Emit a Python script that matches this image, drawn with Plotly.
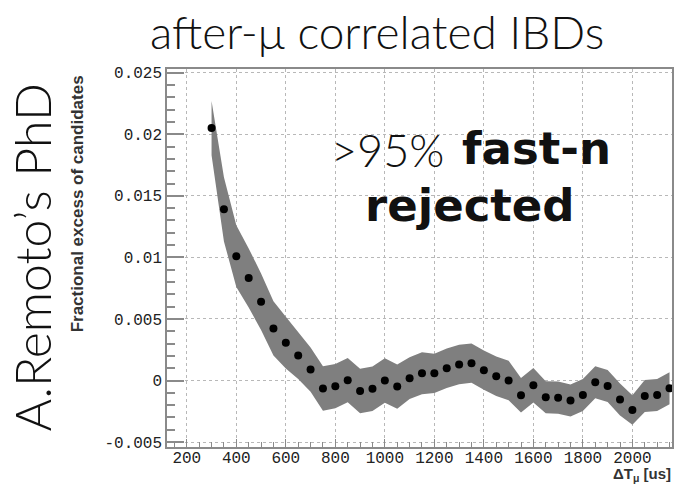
import plotly.graph_objects as go

# Time since muon (us) and fractional excess of IBD candidates
dt_us = [300, 350, 400, 450, 500, 550, 600, 650, 700, 750, 800, 850, 900, 950,
         1000, 1050, 1100, 1150, 1200, 1250, 1300, 1350, 1400, 1450, 1500, 1550,
         1600, 1650, 1700, 1750, 1800, 1850, 1900, 1950, 2000, 2050, 2100, 2150]
excess = [0.0205, 0.0139, 0.0101, 0.00833, 0.0064, 0.00423, 0.00307, 0.00203,
          0.00089, -0.00065, -0.00046, 0.00003, -0.00085, -0.00067, 0.0,
          -0.00049, 0.00019, 0.00059, 0.00058, 0.001, 0.0013, 0.00141, 0.00084,
          0.00035, 0.0, -0.0012, -0.00039, -0.00136, -0.00139, -0.00163,
          -0.00118, -0.00015, -0.00045, -0.00155, -0.0024, -0.00126, -0.00118,
          -0.00063]
err = [0.0022, 0.0026, 0.0025, 0.0024, 0.0023, 0.0022, 0.0021, 0.0019,
       0.0018, 0.0018, 0.0018, 0.0018, 0.0018, 0.0018, 0.0018, 0.0018,
       0.0017, 0.0017, 0.0016, 0.0016, 0.0016, 0.0016, 0.0016, 0.0016,
       0.0016, 0.0014, 0.0014, 0.0013, 0.0013, 0.0013, 0.0013, 0.0013,
       0.0013, 0.0013, 0.0012, 0.0013, 0.0013, 0.0013]

x_ticks = [200, 400, 600, 800, 1000, 1200, 1400, 1600, 1800, 2000]
y_ticks = [-0.005, 0, 0.005, 0.01, 0.015, 0.02, 0.025]
y_tick_text = ["-0.005", "0", "0.005", "0.01", "0.015", "0.02", "0.025"]

upper = [v + e for v, e in zip(excess, err)]
lower = [v - e for v, e in zip(excess, err)]

fig = go.Figure()
# error band
fig.add_trace(go.Scatter(
    x=dt_us + dt_us[::-1], y=upper + lower[::-1],
    fill="toself", fillcolor="#7f7f7f", line=dict(width=0, color="#7f7f7f"),
    mode="lines", hoverinfo="skip", showlegend=False))
# measured points
fig.add_trace(go.Scatter(
    x=dt_us, y=excess, mode="markers",
    marker=dict(color="black", size=8), showlegend=False))

L, R, T, B = 167, 674, 69, 447
W, H = 676, 485


def px(xp):
    return (xp - L) / (R - L)


def py(yp):
    return (B - yp) / (B - T)


axis_common = dict(
    showline=True, linecolor="#8a8a8a", linewidth=1.5, mirror=True,
    showgrid=True, gridcolor="#b8b8b8", griddash="dot", gridwidth=1,
    zeroline=False, ticks="inside", tickcolor="#8a8a8a",
    tickfont=dict(family="Liberation Mono", size=16, color="#222222"),
)

big = dict(showarrow=False, xref="paper", yref="paper",
           xanchor="center", yanchor="middle")

fig.update_layout(
    width=W, height=H,
    margin=dict(l=L, r=W - R, t=T, b=H - B),
    paper_bgcolor="white", plot_bgcolor="white",
    xaxis=dict(range=[120, 2160], tickvals=x_ticks, ticklen=8, tickwidth=1,
               ticklabelstandoff=-5,
               minor=dict(dtick=50, tick0=0, ticks="inside", ticklen=5,
                          tickcolor="#8a8a8a", showgrid=False),
               **axis_common),
    yaxis=dict(range=[-0.0054, 0.0253], tickvals=y_ticks, ticktext=y_tick_text,
               ticklen=17, tickwidth=1.5,
               minor=dict(dtick=0.001, tick0=0, ticks="inside", ticklen=8,
                          tickcolor="#8a8a8a", showgrid=False),
               **axis_common),
    annotations=[
        dict(text="after-\u03bc correlated IBDs", x=px(378), y=py(32),
             font=dict(family="Lato", size=46, weight=300, color="#111111"), **big),
        dict(text="A.Remoto\u2019s PhD", x=px(31), y=py(257), textangle=-90,
             font=dict(family="Lato", size=50, weight=300, color="#111111"), **big),
        dict(text="<b>Fractional excess of candidates</b>", x=px(78), y=py(204),
             textangle=-90,
             font=dict(family="Liberation Sans", size=17, color="#333333"), **big),
        dict(text="<b>\u0394T<sub>\u03bc</sub> [us]</b>", x=px(675), y=py(475),
             showarrow=False, xref="paper", yref="paper",
             xanchor="right", yanchor="middle",
             font=dict(family="Liberation Sans", size=15, color="#333333")),
        dict(text="&gt;95%", x=px(388), y=py(150),
             font=dict(family="Lato", size=45, weight=300, color="#111111"), **big),
        dict(text="<b>fast-n</b>", x=px(538), y=py(148),
             font=dict(family="DejaVu Sans", size=45, color="#111111"), **big),
        dict(text="<b>rejected</b>", x=px(471), y=py(205),
             font=dict(family="DejaVu Sans", size=45, color="#111111"), **big),
    ],
)

fig.write_html("out.html")
